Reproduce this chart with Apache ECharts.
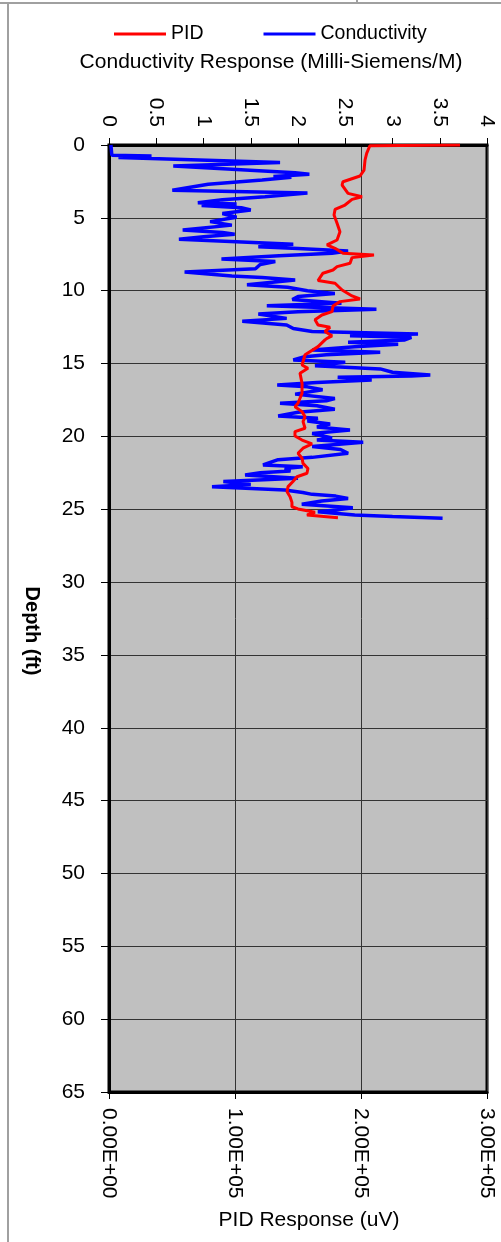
<!DOCTYPE html>
<html>
<head>
<meta charset="utf-8">
<script src="https://cdn.jsdelivr.net/npm/echarts@6/dist/echarts.min.js"></script>
<style>
  html, body { margin: 0; padding: 0; background: #fff; }
  .main { width: 501px; height: 1242px; }
</style>
</head>
<body>
<div class="main"></div>
<script>
// conductivity log (mS/m) against depth (ft)
var condDepth = [0.0, 0.70, 0.75, 0.85, 1.20, 1.44, 1.90, 2.00, 2.17, 2.22, 2.40, 2.70, 3.10, 3.30, 3.55, 3.75, 3.96,
  4.05, 4.15, 4.30, 4.46, 4.70, 4.96, 5.26, 5.50, 5.83, 6.00, 6.13, 6.30, 6.47, 6.82, 6.98, 7.10, 7.27, 7.43, 7.60,
  7.82, 8.00, 8.20, 8.50, 8.72, 8.99, 9.10, 9.27, 9.60, 9.77, 10.0, 10.2, 10.4, 10.6, 10.87, 11.03, 11.28, 11.45,
  11.6, 11.9, 12.1, 12.35, 12.6, 12.8, 12.97, 13.1, 13.2, 13.38, 13.54, 13.68, 13.85, 14.07, 14.23, 14.4, 14.53,
  14.76, 14.91, 15.15, 15.37, 15.6, 15.79, 15.85, 15.94, 16.13, 16.3, 16.47, 16.6, 16.8, 17.1, 17.4, 17.55, 17.73,
  17.9, 18.14, 18.35, 18.6, 18.76, 18.95, 19.15, 19.35, 19.56, 19.8, 20.1, 20.25, 20.4, 20.7, 20.9, 21.16, 21.44,
  21.6, 21.96, 22.08, 22.2, 22.37, 22.5, 22.65, 22.88, 23.1, 23.3, 23.45, 23.68, 23.85, 23.98, 24.1, 24.26, 24.43,
  24.66, 24.9, 25.05, 25.17, 25.4, 25.5, 25.62];
var condValue = [0.02, 0.03, 0.45, 0.10, 1.81, 0.68, 1.97, 2.12, 1.74, 1.93, 1.62, 1.05, 0.67, 2.10, 1.65, 1.20, 0.94,
  1.35, 0.98, 1.40, 1.50, 1.20, 1.35, 1.07, 1.30, 0.78, 1.20, 1.33, 1.00, 0.74, 1.95, 1.58, 2.00, 2.53, 2.36, 1.80,
  1.19, 1.76, 1.60, 1.55, 0.80, 1.30, 1.62, 1.97, 1.46, 1.89, 2.10, 2.39, 2.00, 1.94, 2.46, 1.67, 2.83, 2.00,
  1.58, 1.88, 1.41, 1.88, 1.95, 2.15, 3.27, 2.55, 3.20, 3.13, 2.53, 3.06, 2.60, 2.15, 2.87, 2.30, 2.07,
  1.95, 2.50, 2.18, 2.87, 3.00, 3.40, 3.20, 2.42, 2.78, 2.20, 1.78, 2.10, 2.26, 1.97, 2.39, 2.30, 1.81,
  2.20, 2.39, 2.00, 1.79, 2.21, 2.10, 2.34, 2.20, 2.55, 2.15, 2.36, 2.20, 2.69, 2.15, 2.45, 2.53, 2.15,
  1.79, 1.63, 2.05, 1.86, 1.92, 1.60, 1.44, 2.00, 1.21, 1.50, 1.09, 1.86, 2.05, 2.15, 2.40, 2.53, 2.25,
  2.04, 2.58, 2.40, 2.21, 2.60, 3.00, 3.53];

// PID log (uV) against depth (ft)
var pidDepth = [0.0, 0.05, 0.1, 0.57, 1.03, 1.72, 2.13, 2.52, 2.75, 3.32, 3.55, 3.73, 4.12, 4.42, 4.8, 5.37, 5.95,
  6.52, 6.86, 7.09, 7.43, 7.55, 7.73, 8.12, 8.35, 8.58, 8.8, 9.3, 9.49, 9.95, 10.36, 10.57, 10.75, 11.05, 11.44,
  11.67, 12.0, 12.35, 12.51, 12.8, 13.1, 13.27, 13.38, 13.84, 14.4, 15.1, 15.33, 15.67, 16.36, 17.04, 17.73, 17.96,
  18.3, 18.65, 18.99, 19.44, 19.67, 19.97, 20.25, 20.52, 20.81, 21.16, 21.5, 21.85, 22.2, 22.53, 22.77, 23.1,
  23.45, 23.8, 24.14, 24.53, 24.83, 24.98, 25.21, 25.4, 25.58];
var pidValue = [278600, 207000, 205800, 204500, 203200, 202400, 199200, 185700, 185000, 189700, 200800, 192900,
  187300, 179400, 178600, 181000, 183300, 181000, 173000, 179400, 185700, 210300, 192900, 191300, 181000, 177800,
  169800, 165900, 179400, 185000, 192900, 199200, 183300, 177800, 177000, 169000, 163500, 165900, 175400, 171400,
  177000, 173000, 171400, 165900, 155600, 153200, 157900, 151600, 153200, 153200, 150000, 147600, 153200, 155600,
  154000, 155600, 147600, 147600, 153200, 161100, 154000, 150000, 153200, 154000, 157900, 157100, 149200, 146000,
  142100, 141300, 143700, 145200, 145200, 150000, 163500, 157100, 181700];

var seriesNames = ['PID', 'Conductivity'];

function pairs(xs, ys) {
  var out = [];
  for (var i = 0; i < xs.length; i++) {
    out.push([xs[i], ys[i]]);
  }
  return out;
}

// Excel style 0.00E+00
function sci(v) {
  if (v == 0) return '0.00E+00';
  var e = Math.floor(Math.log10(v));
  var m = v / Math.pow(10, e);
  return m.toFixed(2) + 'E+' + (e < 10 ? '0' : '') + e;
}

var myChart = echarts.init(document.querySelector('.main'));

var font = 'Liberation Sans, Arial, sans-serif';

var option = {
  animation: false,
  textStyle: { fontFamily: font, color: '#000' },
  legend: {
    data: seriesNames,
    left: 114,
    top: 24,
    padding: 0,
    icon: 'rect',
    itemWidth: 52,
    itemHeight: 3,
    itemGap: 60,
    textStyle: { fontSize: 19.5, color: '#000', fontFamily: font }
  },
  grid: {
    left: 109,
    top: 145,
    width: 378,
    height: 947,
    show: true,
    backgroundColor: '#c0c0c0',
    borderColor: '#000',
    borderWidth: 3
  },
  xAxis: [{
    type: 'value',
    position: 'top',
    min: 0,
    max: 4,
    interval: 0.5,
    name: 'Conductivity Response (Milli-Siemens/M)',
    nameLocation: 'middle',
    nameGap: 72,
    nameTextStyle: { fontSize: 21, color: '#000', padding: [0, 54, 0, 0] },
    axisLine: { show: true, lineStyle: { color: '#000', width: 3 } },
    axisTick: { show: true, length: 7, lineStyle: { color: '#000' } },
    axisLabel: { rotate: -90, fontSize: 21, margin: 18, color: '#000' },
    splitLine: { show: false }
  }, {
    type: 'value',
    position: 'bottom',
    min: 0,
    max: 300000,
    interval: 100000,
    name: 'PID Response (uV)',
    nameLocation: 'middle',
    nameGap: 118,
    nameTextStyle: { fontSize: 21, color: '#000', padding: [0, 0, 0, 22] },
    axisLine: { show: true, lineStyle: { color: '#000', width: 3 } },
    axisTick: { show: true, length: 7, lineStyle: { color: '#000' } },
    axisLabel: { rotate: -90, fontSize: 21, margin: 16, color: '#000', formatter: sci },
    splitLine: { show: true, lineStyle: { color: '#333', width: 1 } }
  }],
  yAxis: {
    type: 'value',
    inverse: true,
    min: 0,
    max: 65,
    interval: 5,
    name: 'Depth (ft)',
    nameLocation: 'middle',
    nameRotate: -90,
    nameGap: 67,
    nameTextStyle: { fontSize: 20, fontWeight: 'bold', color: '#000', padding: [0, 0, 0, 25] },
    axisLine: { show: true, lineStyle: { color: '#000', width: 3 } },
    axisTick: { show: true, length: 8, lineStyle: { color: '#000' } },
    axisLabel: { fontSize: 21, margin: 24, color: '#000' },
    splitLine: { show: true, lineStyle: { color: '#333', width: 1 } }
  },
  // spreadsheet cell borders around the embedded chart
  graphic: [
    { type: 'line', shape: { x1: 0, y1: 3, x2: 501, y2: 3 }, style: { stroke: '#a0a0a0', lineWidth: 2 } },
    { type: 'line', shape: { x1: 357, y1: 0, x2: 357, y2: 4 }, style: { stroke: '#a0a0a0', lineWidth: 2 } },
    { type: 'line', shape: { x1: 8, y1: 4, x2: 8, y2: 1242 }, style: { stroke: '#a0a0a0', lineWidth: 2 } }
  ],
  series: [{
    name: 'Conductivity',
    type: 'line',
    xAxisIndex: 0,
    symbol: 'none',
    color: '#0000ff',
    lineStyle: { color: '#0000ff', width: 3.5 },
    data: pairs(condValue, condDepth)
  }, {
    name: 'PID',
    type: 'line',
    xAxisIndex: 1,
    symbol: 'none',
    color: '#ff0000',
    lineStyle: { color: '#ff0000', width: 3 },
    data: pairs(pidValue, pidDepth)
  }]
};

myChart.setOption(option);
</script>
</body>
</html>
